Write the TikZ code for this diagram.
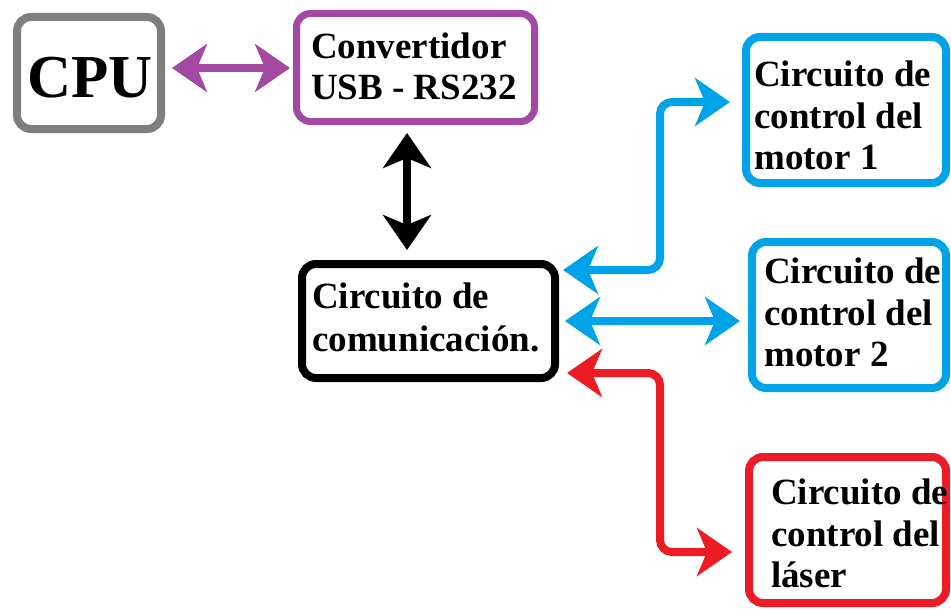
\documentclass[tikz,border=0pt]{standalone}
\usepackage{fontspec}
\setmainfont{Liberation Serif}
\usetikzlibrary{arrows.meta}
\definecolor{cgray}{HTML}{7F7F7F}
\definecolor{cpurple}{HTML}{A349A4}
\definecolor{cblue}{HTML}{00A2E8}
\definecolor{cred}{HTML}{ED1C24}
\begin{document}
\begin{tikzpicture}[x=1pt,y=-1pt,
  box/.style={draw, line width=8pt, rounded corners=14pt, inner sep=0pt, anchor=center},
  lbl/.style={anchor=west, align=left, inner sep=0pt, font=\bfseries\fontsize{37}{41.5}\selectfont},
  tipsh/.tip={Stealth[length=35pt,width=48pt,inset=10pt]},
  conn/.style={line width=8pt, tipsh-tipsh, rounded corners=12pt}]
\useasboundingbox (0,0) rectangle (951,610);
\fill[white] (0,0) rectangle (951,610);

% boxes
\node[box, draw=cgray, minimum width=144pt, minimum height=112pt] (cpu) at (89,73) {};
\node[box, draw=cpurple, line width=7pt, minimum width=238pt, minimum height=108pt] (conv) at (415.5,67.5) {};
\node[box, draw=black, minimum width=253pt, minimum height=114pt] (comm) at (428.5,321) {};
\node[box, draw=cblue, minimum width=200pt, minimum height=146pt] (m1) at (846,110) {};
\node[box, draw=cblue, minimum width=194pt, minimum height=146pt] (m2) at (849,315) {};
\node[box, draw=cred, minimum width=197pt, minimum height=146pt] (las) at (847.5,530) {};

% texts
\node[anchor=base west, inner sep=0pt, font=\bfseries\fontsize{61}{61}\selectfont] (cput) at (27,98) {CPU};
\node[lbl] (convt) at (311,66.5) {Convertidor\\USB - RS232};
\node[lbl, font=\bfseries\fontsize{37}{43.5}\selectfont] (commt) at (312,317.5) {Circuito de\\comunicación.};
\node[lbl] (m1t) at (754,115.5) {Circuito de\\control del\\motor 1};
\node[lbl] (m2t) at (764,312.5) {Circuito de\\control del\\motor 2};
\node[lbl] (last) at (771,533.5) {Circuito de\\control del\\láser};

% helper coordinates
\coordinate (bx) at (407,0);
\coordinate (pa) at (0,68);
\coordinate (b1) at (660,270);
\coordinate (b2) at (660,102);
\coordinate (r1) at (660,373);
\coordinate (r2) at (660,552);

% connectors
\draw[conn, draw=cpurple, shorten <=7pt, shorten >=3pt] (cpu.east |- pa) -- (conv.west |- pa);
\draw[conn, draw=black, shorten <=8pt, shorten >=10pt] (conv.south -| bx) -- (comm.north -| bx);
\draw[conn, draw=cblue, shorten <=4pt, shorten >=12pt] (comm.east |- b1) -- (b1) -- (b2) -- (m1.west |- b2);
\draw[conn, draw=cblue, shorten <=6pt, shorten >=8pt] (comm.east) -- (comm.east -| m2.west);
\draw[conn, draw=cred, shorten <=8pt, shorten >=13pt] (comm.east |- r1) -- (r1) -- (r2) -- (las.west |- r2);
\end{tikzpicture}
\end{document}
